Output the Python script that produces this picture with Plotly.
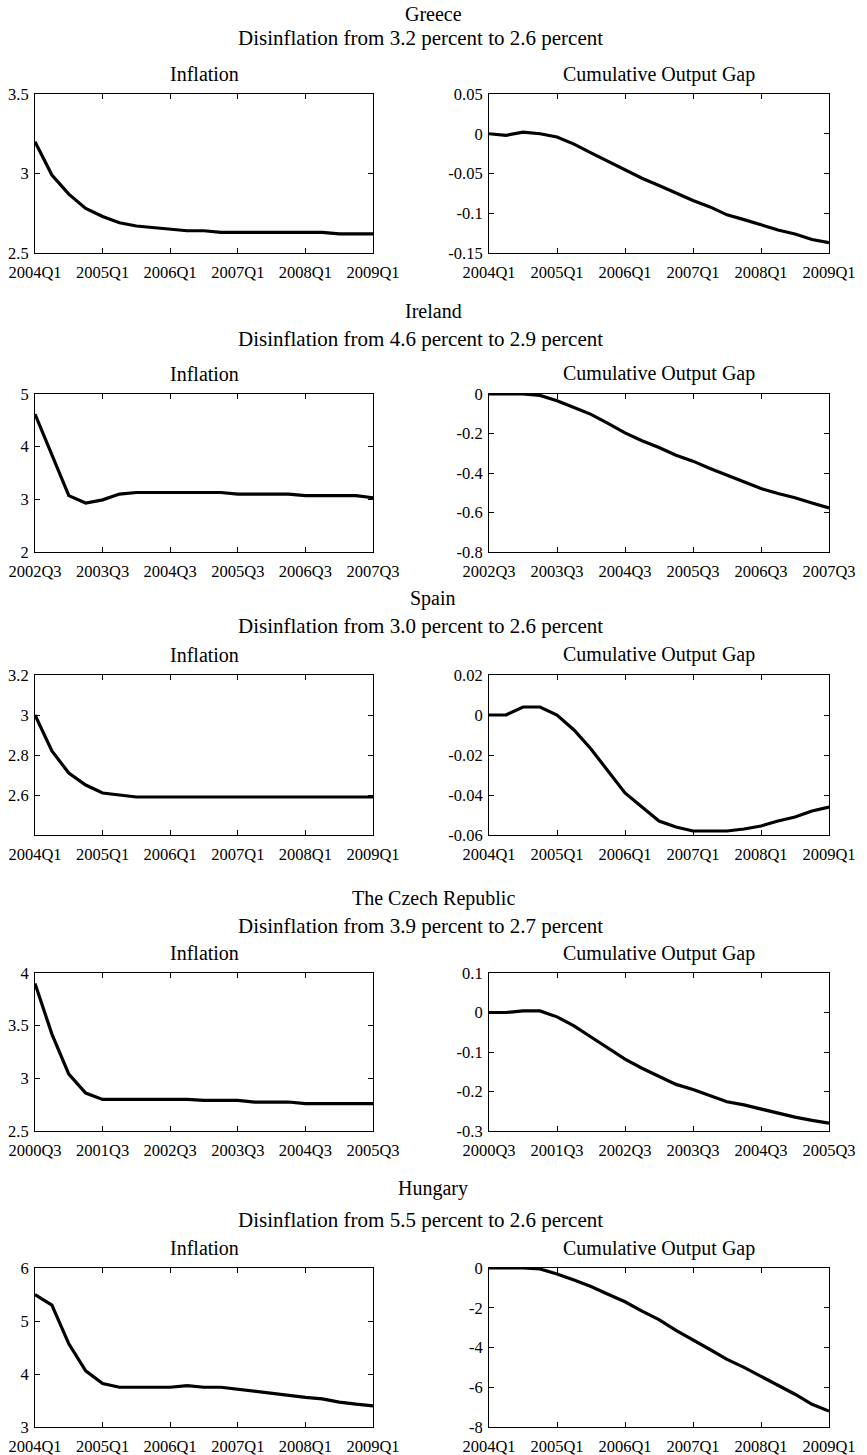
import plotly.graph_objects as go

# ---------------- data ----------------
quarter_idx = list(range(21))
tick_idx = [0, 4, 8, 12, 16, 20]

countries = ["Greece", "Ireland", "Spain", "The Czech Republic", "Hungary"]
subtitles = [
    "Disinflation from 3.2 percent to 2.6 percent",
    "Disinflation from 4.6 percent to 2.9 percent",
    "Disinflation from 3.0 percent to 2.6 percent",
    "Disinflation from 3.9 percent to 2.7 percent",
    "Disinflation from 5.5 percent to 2.6 percent",
]

xt_greece = ["2004Q1", "2005Q1", "2006Q1", "2007Q1", "2008Q1", "2009Q1"]
xt_ireland = ["2002Q3", "2003Q3", "2004Q3", "2005Q3", "2006Q3", "2007Q3"]
xt_spain = ["2004Q1", "2005Q1", "2006Q1", "2007Q1", "2008Q1", "2009Q1"]
xt_czech = ["2000Q3", "2001Q3", "2002Q3", "2003Q3", "2004Q3", "2005Q3"]
xt_hungary = ["2004Q1", "2005Q1", "2006Q1", "2007Q1", "2008Q1", "2009Q1"]

infl_greece = [3.20, 2.99, 2.87, 2.78, 2.73, 2.69, 2.67, 2.66, 2.65, 2.64, 2.64,
               2.63, 2.63, 2.63, 2.63, 2.63, 2.63, 2.63, 2.62, 2.62, 2.62]
gap_greece = [0.000, -0.002, 0.002, 0.000, -0.004, -0.013, -0.024, -0.035, -0.045,
              -0.056, -0.065, -0.075, -0.084, -0.092, -0.102, -0.108, -0.115,
              -0.121, -0.126, -0.133, -0.137]

infl_ireland = [4.62, 3.85, 3.07, 2.93, 2.99, 3.10, 3.13, 3.13, 3.13, 3.13, 3.13,
                3.13, 3.10, 3.10, 3.10, 3.10, 3.07, 3.07, 3.07, 3.07, 3.03]
gap_ireland = [0.000, 0.000, 0.000, -0.007, -0.034, -0.068, -0.103, -0.149, -0.197,
               -0.237, -0.271, -0.310, -0.340, -0.377, -0.411, -0.445, -0.479,
               -0.504, -0.525, -0.552, -0.577]

infl_spain = [3.00, 2.82, 2.71, 2.65, 2.61, 2.60, 2.59, 2.59, 2.59, 2.59, 2.59,
              2.59, 2.59, 2.59, 2.59, 2.59, 2.59, 2.59, 2.59, 2.59, 2.59]
gap_spain = [0.000, 0.000, 0.004, 0.004, 0.000, -0.0075, -0.017, -0.028, -0.039,
             -0.046, -0.053, -0.056, -0.058, -0.058, -0.058, -0.057, -0.0555,
             -0.053, -0.051, -0.048, -0.046]

infl_czech = [3.90, 3.42, 3.04, 2.86, 2.80, 2.80, 2.80, 2.80, 2.80, 2.80, 2.79,
              2.79, 2.79, 2.775, 2.775, 2.775, 2.76, 2.76, 2.76, 2.76, 2.76]
gap_czech = [0.000, 0.000, 0.004, 0.004, -0.011, -0.034, -0.062, -0.090, -0.118,
             -0.141, -0.161, -0.182, -0.195, -0.211, -0.226, -0.234, -0.245,
             -0.256, -0.265, -0.273, -0.280]

infl_hungary = [5.50, 5.30, 4.57, 4.06, 3.82, 3.75, 3.75, 3.75, 3.75, 3.78, 3.75,
                3.75, 3.71, 3.67, 3.63, 3.60, 3.56, 3.53, 3.47, 3.43, 3.40]
gap_hungary = [0.00, 0.00, 0.00, -0.05, -0.30, -0.60, -0.93, -1.32, -1.70, -2.17,
               -2.60, -3.14, -3.60, -4.10, -4.60, -5.00, -5.45, -5.90, -6.35,
               -6.86, -7.20]

# y-axis ticks (values and labels)
yt_infl_greece = [2.5, 3, 3.5]
yl_infl_greece = ["2.5", "3", "3.5"]
yt_gap_greece = [-0.15, -0.1, -0.05, 0, 0.05]
yl_gap_greece = ["-0.15", "-0.1", "-0.05", "0", "0.05"]
yt_infl_ireland = [2, 3, 4, 5]
yl_infl_ireland = ["2", "3", "4", "5"]
yt_gap_ireland = [-0.8, -0.6, -0.4, -0.2, 0]
yl_gap_ireland = ["-0.8", "-0.6", "-0.4", "-0.2", "0"]
yt_infl_spain = [2.4, 2.6, 2.8, 3, 3.2]
yl_infl_spain = ["", "2.6", "2.8", "3", "3.2"]
yt_gap_spain = [-0.06, -0.04, -0.02, 0, 0.02]
yl_gap_spain = ["-0.06", "-0.04", "-0.02", "0", "0.02"]
yt_infl_czech = [2.5, 3, 3.5, 4]
yl_infl_czech = ["2.5", "3", "3.5", "4"]
yt_gap_czech = [-0.3, -0.2, -0.1, 0, 0.1]
yl_gap_czech = ["-0.3", "-0.2", "-0.1", "0", "0.1"]
yt_infl_hungary = [3, 4, 5, 6]
yl_infl_hungary = ["3", "4", "5", "6"]
yt_gap_hungary = [-8, -6, -4, -2, 0]
yl_gap_hungary = ["-8", "-6", "-4", "-2", "0"]

# ---------------- layout helpers ----------------
W, H = 867, 1455
FONT = "Liberation Serif"

rows = [
    dict(country=countries[0], sub=subtitles[0], xt=xt_greece,
         left=(infl_greece, yt_infl_greece, yl_infl_greece),
         right=(gap_greece, yt_gap_greece, yl_gap_greece),
         top=94, bottom=253, t_country=14, t_sub=38, t_panel=74),
    dict(country=countries[1], sub=subtitles[1], xt=xt_ireland,
         left=(infl_ireland, yt_infl_ireland, yl_infl_ireland),
         right=(gap_ireland, yt_gap_ireland, yl_gap_ireland),
         top=394, bottom=552, t_country=311, t_sub=339, t_panel=374),
    dict(country=countries[2], sub=subtitles[2], xt=xt_spain,
         left=(infl_spain, yt_infl_spain, yl_infl_spain),
         right=(gap_spain, yt_gap_spain, yl_gap_spain),
         top=675, bottom=835, t_country=598, t_sub=626, t_panel=655),
    dict(country=countries[3], sub=subtitles[3], xt=xt_czech,
         left=(infl_czech, yt_infl_czech, yl_infl_czech),
         right=(gap_czech, yt_gap_czech, yl_gap_czech),
         top=973, bottom=1131, t_country=898, t_sub=926, t_panel=953),
    dict(country=countries[4], sub=subtitles[4], xt=xt_hungary,
         left=(infl_hungary, yt_infl_hungary, yl_infl_hungary),
         right=(gap_hungary, yt_gap_hungary, yl_gap_hungary),
         top=1268, bottom=1427, t_country=1188, t_sub=1220, t_panel=1248),
]

cols = [(35, 373), (489, 829)]
panel_titles = ["Inflation", "Cumulative Output Gap"]

fig = go.Figure()
layout = dict(width=W, height=H, margin=dict(l=0, r=0, t=0, b=0, autoexpand=False),
              paper_bgcolor="white", plot_bgcolor="white", showlegend=False,
              font=dict(family=FONT, size=17, color="black"))
annotations = []

def py(px):
    return 1 - px / H

n = 0
for r in rows:
    for c, (x0, x1) in enumerate(cols):
        n += 1
        vals, ytv, ytl = r["left"] if c == 0 else r["right"]
        xa = "xaxis" if n == 1 else f"xaxis{n}"
        ya = "yaxis" if n == 1 else f"yaxis{n}"
        xr = "x" if n == 1 else f"x{n}"
        yr = "y" if n == 1 else f"y{n}"
        fig.add_trace(go.Scatter(x=quarter_idx, y=vals, mode="lines",
                                 line=dict(color="black", width=3.2),
                                 xaxis=xr, yaxis=yr, hoverinfo="x+y"))
        common = dict(showline=True, linecolor="black", linewidth=1, mirror="allticks",
                      ticks="inside", ticklen=5, tickcolor="black", showgrid=False,
                      zeroline=False, automargin=False,
                      tickfont=dict(family=FONT, size=16.5, color="black"))
        layout[xa] = dict(domain=[x0 / W, x1 / W], anchor=yr, range=[0, 20],
                          tickvals=tick_idx, ticktext=r["xt"],
                          ticklabelstandoff=4, **common)
        layout[ya] = dict(domain=[py(r["bottom"]), py(r["top"])], anchor=xr,
                          range=[ytv[0], ytv[-1]], tickvals=ytv, ticktext=ytl,
                          ticklabelstandoff=2, **common)
        annotations.append(dict(text=panel_titles[c], x=(x0 + x1) / 2 / W,
                                y=py(r["t_panel"]), xref="paper", yref="paper",
                                showarrow=False, xanchor="center", yanchor="middle",
                                font=dict(family=FONT, size=20, color="black")))
    annotations.append(dict(text=r["country"], x=433 / W, y=py(r["t_country"]),
                            xref="paper", yref="paper", showarrow=False,
                            xanchor="center", yanchor="middle",
                            font=dict(family=FONT, size=20, color="black")))
    annotations.append(dict(text=r["sub"], x=420 / W, y=py(r["t_sub"]),
                            xref="paper", yref="paper", showarrow=False,
                            xanchor="center", yanchor="middle",
                            font=dict(family=FONT, size=21, color="black")))

layout["annotations"] = annotations
fig.update_layout(**layout)
fig.write_html("out.html", config={"displayModeBar": False},
               post_script="document.body.style.margin='0px';document.body.style.padding='0px';")
